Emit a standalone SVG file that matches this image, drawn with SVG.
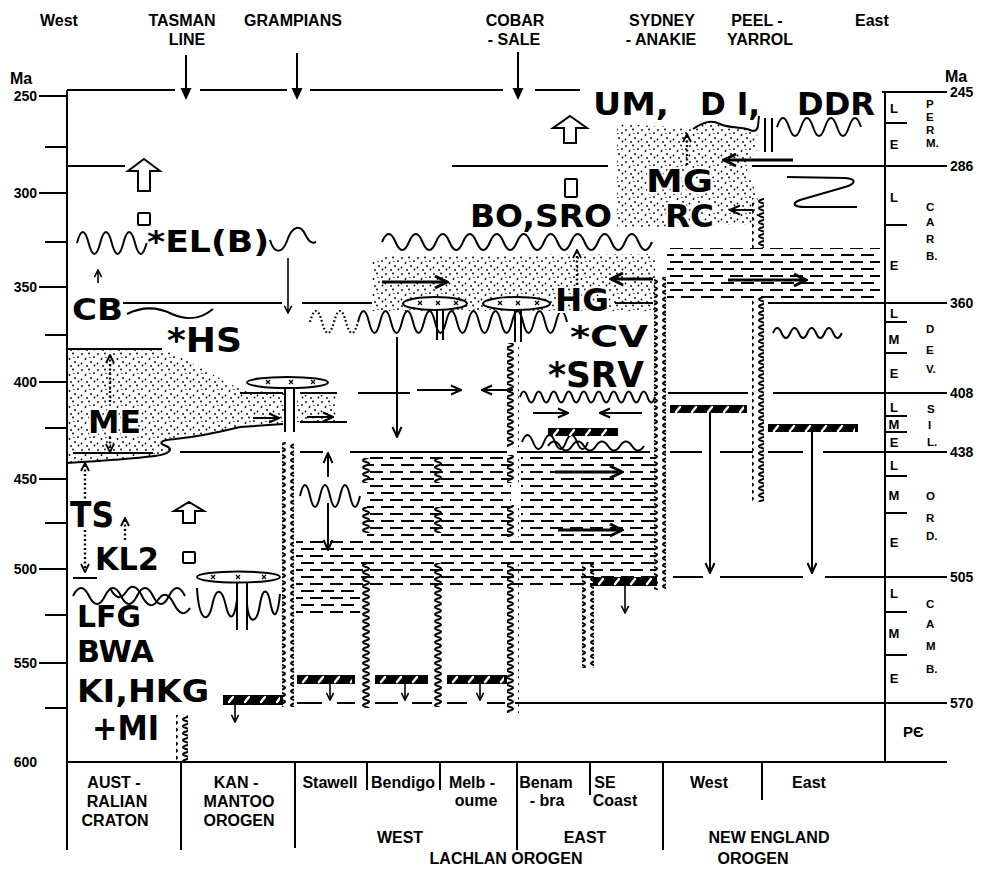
<svg xmlns="http://www.w3.org/2000/svg" width="981" height="870" viewBox="0 0 981 870">
<style>
.ln{stroke:#000;stroke-width:2;fill:none}
.wv{stroke:#000;stroke-width:2;fill:none}
.wd{stroke:#000;stroke-width:2.2;fill:none;stroke-dasharray:1.6 2.4}
.dt{stroke:#000;stroke-width:2.4;fill:none;stroke-dasharray:2 2.5;marker-end:url(#ahd)}
.ar{stroke:#000;stroke-width:2;fill:none;marker-end:url(#ah)}
.as{stroke:#000;stroke-width:1.6;fill:none;marker-end:url(#ahs)}
.ar3{stroke:#000;stroke-width:3;fill:none;marker-end:url(#ah3)}
.af{stroke:#000;stroke-width:2;fill:none;marker-end:url(#af)}
.hd{font-family:"Liberation Sans",Arial,sans-serif;font-weight:bold;font-size:16px;fill:#000}
.ax{font-family:"Liberation Sans",Arial,sans-serif;font-weight:bold;font-size:14px;fill:#000}
.ts{font-family:"Liberation Sans",Arial,sans-serif;font-weight:bold;font-size:13px;fill:#000;text-anchor:middle}
.tp{font-family:"Liberation Sans",Arial,sans-serif;font-weight:bold;font-size:11.5px;fill:#000}
.bt{font-family:"Liberation Sans",Arial,sans-serif;font-weight:bold;font-size:16px;fill:#000;text-anchor:middle}
.bg{font-family:"DejaVu Sans",sans-serif;font-weight:bold;font-size:32px;fill:#000}
.ko{stroke:#fff;stroke-width:4;paint-order:stroke;stroke-linejoin:round}
.ho{fill:#fff;stroke:#000;stroke-width:2}
.dots{fill:url(#dots)}
.sh{fill:url(#sh)}
.sq{fill:url(#sqp)}
</style>
<defs>
<marker id="ah" viewBox="0 0 12 12" refX="11" refY="6" markerWidth="12" markerHeight="12" markerUnits="userSpaceOnUse" orient="auto"><path d="M1,1.5 L11,6 L1,10.5" fill="none" stroke="#000" stroke-width="2"/></marker>
<marker id="ahs" viewBox="0 0 10 10" refX="9" refY="5" markerWidth="9" markerHeight="9" markerUnits="userSpaceOnUse" orient="auto"><path d="M1,1 L9,5 L1,9" fill="none" stroke="#000" stroke-width="1.8"/></marker>
<marker id="ah3" viewBox="0 0 16 16" refX="14" refY="8" markerWidth="16" markerHeight="16" markerUnits="userSpaceOnUse" orient="auto"><path d="M2,2 L14,8 L2,14" fill="none" stroke="#000" stroke-width="3"/></marker>
<marker id="ahd" viewBox="0 0 10 10" refX="9" refY="5" markerWidth="10" markerHeight="10" markerUnits="userSpaceOnUse" orient="auto"><path d="M1,1 L9,5 L1,9" fill="none" stroke="#000" stroke-width="1.8"/></marker>
<marker id="af" viewBox="0 0 12 12" refX="2" refY="6" markerWidth="12" markerHeight="12" markerUnits="userSpaceOnUse" orient="auto"><path d="M0,0.5 L12,6 L0,11.5 Z" fill="#000"/></marker>
<pattern id="sqp" width="12" height="7" patternUnits="userSpaceOnUse"><path d="M6,-3.5 Q0,-1.75 6,0 Q12,1.75 6,3.5 Q0,5.25 6,7 Q12,8.75 6,10.5" fill="none" stroke="#000" stroke-width="2"/></pattern>
<pattern id="dots" width="16" height="16" patternUnits="userSpaceOnUse"><g fill="#000"><circle cx="2" cy="2" r="0.9"/><circle cx="9" cy="1.5" r="0.9"/><circle cx="14" cy="5" r="0.9"/><circle cx="5.5" cy="7" r="0.9"/><circle cx="11" cy="10" r="0.9"/><circle cx="1.5" cy="11.5" r="0.9"/><circle cx="7" cy="14" r="0.9"/><circle cx="14.5" cy="13.5" r="0.9"/><circle cx="10" cy="5.5" r="0.7"/></g></pattern>
<pattern id="sh" width="40" height="14" patternUnits="userSpaceOnUse"><path d="M1,3h13M21,3h13M10,10h13M30,10h10M0,10h3" stroke="#000" stroke-width="1.8"/></pattern>
<pattern id="hw" width="16" height="9" patternUnits="userSpaceOnUse"><path d="M6,7 L10,2" stroke="#fff" stroke-width="2.4" stroke-linecap="round"/></pattern>
<path id="xm" d="M-2,-2L2,2M-2,2L2,-2" stroke="#000" stroke-width="1.2"/>
</defs>
<rect width="981" height="870" fill="#fff"/>

<g id="fills">
<path class="dots" d="M67,349 L162,349 C190,360 220,380 245,391 L285,392 L285,424 L240,427 C220,432 195,437 175,439 C160,440 158,443 166,446 C174,449 170,454 155,456 C130,459 100,461 67,463 Z"/>
<rect class="dots" x="297" y="395" width="39" height="28"/>
<path class="dots" d="M382,256 L655,254 L655,311 L372,311 L372,262 Z"/>
<path class="dots" d="M617,124 L693,128 C705,121 713,120 720,124 C732,129 746,128 757,130 L758,150 C746,160 744,168 752,182 C758,195 760,210 758,224 L617,228 Z"/>
<rect class="sh" x="367" y="456" width="144" height="82"/>
<rect class="sh" x="521" y="456" width="134" height="134"/>
<rect class="sh" x="296" y="538" width="359" height="52"/>
<rect class="sh" x="296" y="590" width="64" height="27"/>
<rect class="sh" x="667" y="248" width="213" height="52"/>
</g>

<g id="axes">
<path class="ln" d="M67,90V850M67,90H175M200,90H287M310,90H503M535,90H580"/>
<path class="ln" d="M39,96H67M45,147H67M39,193H67M45,242H67M39,287H67M45,335H67M39,382H67M45,428H67M39,479H67M45,523H67M39,569H67M45,615H67M39,663H67M45,708H67"/>
<g class="ax" text-anchor="end">
<text x="37" y="101">250</text><text x="37" y="198">300</text><text x="37" y="292">350</text><text x="37" y="387">400</text><text x="37" y="484">450</text><text x="37" y="574">500</text><text x="37" y="668">550</text><text x="37" y="767">600</text>
</g>
<path class="ln" d="M885,92V762M882,92H947M752,166H947M768,303H947M773,393H947M823,452H947M825,577H947M515,703H947"/>
<path class="ln" d="M885,123H907M885,225H907M885,322H907M885,353H907M885,416H907M885,432H907M885,476H907M885,513H907M885,612H907M885,655H907"/>
<g class="ax">
<text x="950" y="97">245</text><text x="950" y="171">286</text><text x="950" y="308">360</text><text x="950" y="398">408</text><text x="950" y="457">438</text><text x="950" y="582">505</text><text x="950" y="708">570</text>
</g>
</g>

<g id="timescale">
<g class="ts">
<text x="894" y="113">L</text><text x="894" y="149">E</text>
<text x="894" y="202">L</text><text x="894" y="270">E</text>
<text x="894" y="318">L</text><text x="894" y="344">M</text><text x="894" y="378">E</text>
<text x="894" y="412">L</text><text x="894" y="429">M</text><text x="894" y="447">E</text>
<text x="894" y="470">L</text><text x="894" y="500">M</text><text x="894" y="547">E</text>
<text x="894" y="598">L</text><text x="894" y="638">M</text><text x="894" y="683">E</text>
</g>
<g class="tp">
<text x="926" y="108">P</text><text x="926" y="121">E</text><text x="926" y="134">R</text><text x="926" y="147">M.</text>
<text x="926" y="211">C</text><text x="926" y="226">A</text><text x="926" y="243">R</text><text x="926" y="260">B.</text>
<text x="926" y="333">D</text><text x="926" y="354">E</text><text x="926" y="373">V.</text>
<text x="927" y="413">S</text><text x="928" y="429">I</text><text x="927" y="446">L.</text>
<text x="926" y="500">O</text><text x="926" y="522">R</text><text x="926" y="540">D.</text>
<text x="926" y="608">C</text><text x="926" y="628">A</text><text x="926" y="650">M</text><text x="926" y="673">B.</text>
<text x="903" y="737" font-size="15">PЄ</text>
</g>
</g>

<g id="header" class="hd">
<text x="40" y="26">West</text>
<text x="182" y="26" text-anchor="middle">TASMAN</text>
<text x="187" y="44.5" text-anchor="middle">LINE</text>
<text x="293" y="26" text-anchor="middle">GRAMPIANS</text>
<text x="515" y="26" text-anchor="middle">COBAR</text>
<text x="514" y="44.5" text-anchor="middle">- SALE</text>
<text x="662" y="26" text-anchor="middle">SYDNEY</text>
<text x="661" y="44.5" text-anchor="middle">- ANAKIE</text>
<text x="757" y="26" text-anchor="middle">PEEL -</text>
<text x="760" y="44.5" text-anchor="middle">YARROL</text>
<text x="855" y="26">East</text>
<text x="10" y="84">Ma</text>
<text x="945" y="82">Ma</text>
</g>

<g id="lines">
<path class="ln" d="M67,166H125M452,166H608"/>
<path class="ln" d="M123,303H282M302,303H372M615,303H653"/>
<path class="ln" d="M240,393H283M300,393H337M358,393H410M668,393H748"/>
<path class="ln" d="M73,453H153M180,452H280M300,452H323M350,452H507M517,452H650M670,452H702M720,452H753M768,452H803"/>
<path class="ln" d="M73,578H97M673,577H703M720,577H803"/>
<path class="ln" d="M297,703H322M337,703H355M375,703H398M412,703H432M447,703H467M487,703H505"/>
<path class="ln" d="M67,349H162M300,422H347"/>
<path class="ln" d="M67,463 C100,461 130,459 155,456 C170,454 174,449 166,446 C158,443 160,440 175,439 C195,437 220,432 240,427 L283,424"/>
<path class="ln" d="M787,177 L845,178 C858,179 855,184 845,187 L800,200 C790,204 795,207 805,207 L857,207"/>
<path class="ln" d="M765,118V152M772,118V152"/>
<rect class="ln" x="138" y="213" width="12" height="12" rx="1"/>
<rect class="ln" x="565" y="179" width="12" height="18" rx="1"/>
<rect class="ln" x="183" y="552" width="12" height="11" rx="1"/>
<path class="ho" d="M144,159 L160,171 L150,171 L150,191 L138,191 L138,171 L128,171 Z"/>
<path class="ho" d="M570,116 L587,128 L576,128 L576,143 L564,143 L564,128 L553,128 Z"/>
<path class="ho" d="M189,502 L204,511 L195,511 L195,523 L183,523 L183,511 L174,511 Z"/>
</g>

<g id="waves">
<path class="wv" d="M77,243 q5.8,-22 11.6,0 t11.6,0 t11.6,0 t11.6,0 t11.6,0 t11.6,0"/>
<path class="wv" d="M270,240 C274,254 282,254 287,241 C292,226 300,224 305,234 C309,242 312,244 316,242"/>
<path class="wv" d="M127,314 C145,305 160,308 172,314 C185,320 200,320 213,309"/>
<path class="wv" d="M382,242 q6.75,-16 13.5,0 t13.5,0 t13.5,0 t13.5,0 t13.5,0 t13.5,0 t13.5,0 t13.5,0 t13.5,0 t13.5,0 t13.5,0 t13.5,0 t13.5,0 t13.5,0 t13.5,0 t13.5,0 t13.5,0 t13.5,0 t13.5,0 t13.5,0"/>
<path class="wd" d="M310,322 q6,-22 12,0 t12,0 t12,0 t12,0"/>
<path class="wv" d="M358,322 q5.5,-22 11,0 t11,0 t11,0 t11,0 t11,0 t11,0 t11,0 t11,0 t11,0 t11,0 t11,0 t11,0 t11,0 t11,0 t11,0 t11,0 t11,0 t11,0 t11,0"/>
<path class="wv" d="M520,397 q3.75,-11 7.5,0 t7.5,0 t7.5,0 t7.5,0 t7.5,0 t7.5,0 t7.5,0 t7.5,0 t7.5,0 t7.5,0 t7.5,0 t7.5,0 t7.5,0 t7.5,0 t7.5,0 t7.5,0 t7.5,0 t7.5,0"/>
<path class="wv" d="M522,442 q5.5,-14 11,0 t11,0 t11,0 t11,0 t11,0 t11,0"/>
<path class="wv" d="M548,446 q6,-9 12,0 t12,0 t12,0 t12,0 t12,0 t12,0 t12,0 t12,0"/>
<path class="wv" d="M300,496 q5,-22 10,0 t10,0 t10,0 t10,0 t10,0 t10,0"/>
<path class="wv" d="M773,333 q4.3,-10 8.6,0 t8.6,0 t8.6,0 t8.6,0 t8.6,0 t8.6,0 t8.6,0 t8.6,0"/>
<path class="wv" d="M777,127 q6,-18 12,0 t12,0 t12,0 t12,0 t12,0 t12,0 t12,0"/>
<path class="wv" d="M693,129 C702,123 710,119 720,124 C730,129 742,126 750,130 C754,132 757,131 758,126 L759,116"/>
<path class="wv" d="M73,596 q8,-16 16,0 t16,0 t16,0 t16,0 t16,0 t16,0 t16,0"/>
<path class="wv" d="M110,588 q8,16 16,4 t16,4 t16,4 t16,4 t16,4"/>
<path class="wv" d="M197,588 C199,622 208,624 212,606 C216,586 222,588 226,606 C229,620 234,622 237,600"/>
<path class="wv" d="M247,604 C249,626 257,624 260,604 C263,586 268,588 271,606 C274,620 278,616 280,594"/>
</g>

<g id="squiggles">
<rect class="sq" x="176" y="715" width="12" height="47"/>
<rect class="sq" x="282" y="442" width="12" height="265"/>
<rect class="sq" x="359" y="458" width="12" height="25"/>
<rect class="sq" x="359" y="507" width="12" height="26"/>
<rect class="sq" x="359" y="563" width="12" height="145"/>
<rect class="sq" x="432" y="458" width="12" height="25"/>
<rect class="sq" x="432" y="507" width="12" height="26"/>
<rect class="sq" x="432" y="563" width="12" height="144"/>
<rect class="sq" x="507" y="343" width="12" height="104"/>
<rect class="sq" x="507" y="455" width="12" height="28"/>
<rect class="sq" x="507" y="505" width="12" height="32"/>
<rect class="sq" x="507" y="563" width="12" height="150"/>
<rect class="sq" x="582" y="563" width="12" height="105"/>
<rect class="sq" x="654" y="277" width="12" height="313"/>
<rect class="sq" x="752" y="198" width="12" height="50"/>
<rect class="sq" x="752" y="297" width="12" height="205"/>
</g>

<g id="plutons">
<ellipse class="ho" cx="287.5" cy="382.5" rx="40.5" ry="5.5"/>
<path class="ln" d="M285,388V432M294,388V432"/>
<use href="#xm" x="268" y="382"/><use href="#xm" x="291" y="382"/><use href="#xm" x="313" y="382"/>
<ellipse class="ho" cx="435" cy="303.5" rx="32" ry="6.5"/>
<path class="ln" d="M437,310V340M443,310V340"/>
<use href="#xm" x="420" y="303"/><use href="#xm" x="438" y="303"/><use href="#xm" x="456" y="303"/>
<ellipse class="ho" cx="516.5" cy="303.5" rx="33.5" ry="6.5"/>
<path class="ln" d="M515,310V342M521,310V342"/>
<use href="#xm" x="500" y="303"/><use href="#xm" x="518" y="303"/><use href="#xm" x="537" y="303"/>
<ellipse class="ho" cx="238.5" cy="577" rx="41.5" ry="5.5"/>
<path class="ln" d="M237,582V630M247,582V630"/>
<use href="#xm" x="213" y="577"/><use href="#xm" x="238" y="577"/><use href="#xm" x="264" y="577"/>
</g>

<g id="bars">
<g transform="translate(223,695)"><rect width="60" height="10"/><rect x="3" width="54" height="10" fill="url(#hw)"/></g>
<g transform="translate(297,675)"><rect width="58" height="9"/><rect x="3" width="52" height="9" fill="url(#hw)"/></g>
<g transform="translate(375,675)"><rect width="53" height="9"/><rect x="3" width="47" height="9" fill="url(#hw)"/></g>
<g transform="translate(447,675)"><rect width="60" height="9"/><rect x="3" width="54" height="9" fill="url(#hw)"/></g>
<g transform="translate(593,577)"><rect width="64" height="9"/><rect x="3" width="58" height="9" fill="url(#hw)"/></g>
<g transform="translate(548,428)"><rect width="70" height="8"/><rect x="3" width="64" height="8" fill="url(#hw)"/></g>
<g transform="translate(670,405)"><rect width="77" height="8"/><rect x="3" width="71" height="8" fill="url(#hw)"/></g>
<g transform="translate(768,424)"><rect width="90" height="8"/><rect x="3" width="84" height="8" fill="url(#hw)"/></g>
</g>

<g id="connectors">
<path class="af" d="M186,55V90"/>
<path class="af" d="M297,53V90"/>
<path class="af" d="M518,52V90"/>
<path class="as" d="M98,283V270"/>
<path class="as" d="M288,258V313"/>
<path class="ar" d="M253,418H279"/>
<path class="ar" d="M307,417H333"/>
<path class="ar" d="M417,390H461"/>
<path class="ar" d="M513,390H482"/>
<path class="ar3" d="M382,282H447"/>
<path class="ar3" d="M653,279H611"/>
<path class="ar" d="M533,413H568"/>
<path class="ar" d="M642,413H600"/>
<path class="ar3" d="M555,472H622"/>
<path class="ar3" d="M558,530H622"/>
<path class="ar3" d="M728,280H806"/>
<path class="ar3" d="M793,160H724"/>
<path class="ar" d="M753,210H730"/>
<path class="ar" d="M328,477V453"/>
<path class="ar" d="M328,503V550"/>
<path class="ar" d="M397,337V437"/>
<path class="ar" d="M710,413V573"/>
<path class="ar" d="M812,432V573"/>
<path class="as" d="M235,705V722"/>
<path class="as" d="M330,684V700"/>
<path class="as" d="M405,684V700"/>
<path class="as" d="M480,684V700"/>
<path class="as" d="M625,586V613"/>
<path class="dt" d="M110,402V355"/>
<path class="dt" d="M110,437V452"/>
<path class="dt" d="M85,503V463"/>
<path class="dt" d="M85,530V572"/>
<path class="dt" d="M125,540V518"/>
<path class="dt" d="M577,285V250"/>
<path class="dt" d="M687,165V134"/>
</g>

<g id="labels" class="bg">
<text x="593" y="115" textLength="76" lengthAdjust="spacingAndGlyphs">UM,</text>
<text x="700" y="115" textLength="60" lengthAdjust="spacingAndGlyphs">D I,</text>
<text x="797" y="115" textLength="78" lengthAdjust="spacingAndGlyphs">DDR</text>
<text class="bg ko" x="646" y="192" font-size="30" textLength="67" lengthAdjust="spacingAndGlyphs">MG</text>
<text class="bg ko" x="665" y="227" font-size="30" textLength="49" lengthAdjust="spacingAndGlyphs">RC</text>
<text x="470" y="227" textLength="142" lengthAdjust="spacingAndGlyphs">BO,SRO</text>
<text x="147" y="252" font-size="30" textLength="122" lengthAdjust="spacingAndGlyphs">*EL(B)</text>
<text x="72" y="320" font-size="31" textLength="51" lengthAdjust="spacingAndGlyphs">CB</text>
<text x="167" y="352" font-size="33" textLength="75" lengthAdjust="spacingAndGlyphs">*HS</text>
<text class="bg ko" x="555" y="311" font-size="30" textLength="54" lengthAdjust="spacingAndGlyphs">HG</text>
<text x="570" y="347" font-size="30" textLength="78" lengthAdjust="spacingAndGlyphs">*CV</text>
<text x="548" y="387" font-size="35" textLength="96" lengthAdjust="spacingAndGlyphs">*SRV</text>
<text class="bg ko" x="88" y="433" font-size="32" textLength="53" lengthAdjust="spacingAndGlyphs">ME</text>
<text x="70" y="527" font-size="35" textLength="44" lengthAdjust="spacingAndGlyphs">TS</text>
<text x="95" y="570" font-size="32" textLength="64" lengthAdjust="spacingAndGlyphs">KL2</text>
<text x="77" y="627" font-size="30" textLength="64" lengthAdjust="spacingAndGlyphs">LFG</text>
<text x="77" y="662" font-size="30" textLength="77" lengthAdjust="spacingAndGlyphs">BWA</text>
<text x="77" y="702" font-size="32" textLength="132" lengthAdjust="spacingAndGlyphs">KI,HKG</text>
<text x="92" y="740" font-size="34" textLength="67" lengthAdjust="spacingAndGlyphs">+MI</text>
</g>

<g id="columns">
<path class="ln" d="M67,762H947M181,762V850M295,762V848M367,762V790M440,762V790M517,762V850M590,762V795M663,762V850M762,762V800"/>
<g class="bt">
<text x="114" y="788">AUST -</text><text x="117" y="807">RALIAN</text><text x="115" y="826">CRATON</text>
<text x="236" y="788">KAN -</text><text x="239" y="807">MANTOO</text><text x="239" y="826">OROGEN</text>
<text x="330" y="788">Stawell</text>
<text x="403" y="788">Bendigo</text>
<text x="472" y="788">Melb -</text><text x="476" y="806">oume</text>
<text x="546" y="788">Benam</text><text x="547" y="806">- bra</text>
<text x="605" y="788">SE</text><text x="615" y="806">Coast</text>
<text x="709" y="788">West</text>
<text x="809" y="788">East</text>
<text x="400" y="843">WEST</text>
<text x="585" y="843">EAST</text>
<text x="769" y="843">NEW  ENGLAND</text>
<text x="506" y="864">LACHLAN  OROGEN</text>
<text x="753" y="864">OROGEN</text>
</g>
</g>
</svg>
